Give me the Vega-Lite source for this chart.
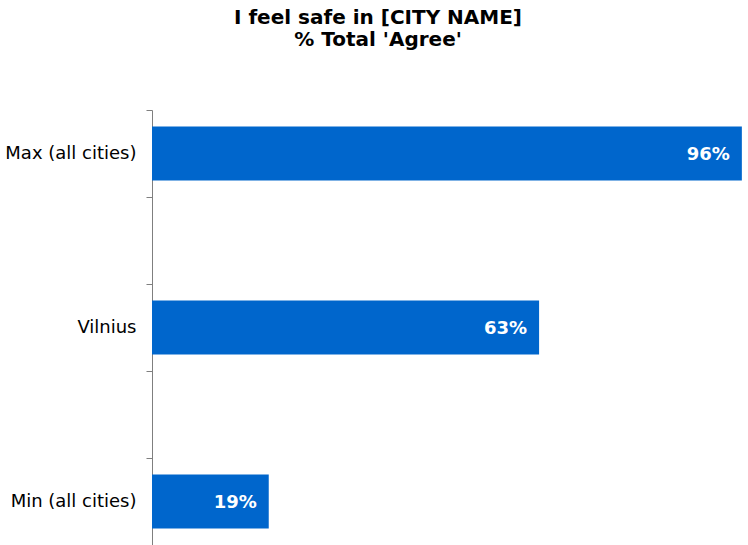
{
  "$schema": "https://vega.github.io/schema/vega-lite/v6.json",
  "width": 596,
  "height": 435,
  "autosize": {"type": "none"},
  "padding": {"left": 152, "top": 110, "right": 0, "bottom": 0},
  "background": "white",
  "config": {"view": {"stroke": null}, "font": "DejaVu Sans"},
  "title": {
    "text": ["I feel safe in [CITY NAME]", "% Total 'Agree'"],
    "font": "DejaVu Sans",
    "fontSize": 20,
    "fontWeight": "bold",
    "color": "#000000",
    "anchor": "middle",
    "dx": -72,
    "offset": 60,
    "lineHeight": 22
  },
  "data": {
    "values": [
      {"city": "Max (all cities)", "value": 96, "label": "96%"},
      {"city": "Vilnius", "value": 63, "label": "63%"},
      {"city": "Min (all cities)", "value": 19, "label": "19%"}
    ]
  },
  "encoding": {
    "y": {
      "field": "city",
      "type": "nominal",
      "scale": {
        "domain": ["Max (all cities)", "_a", "Vilnius", "_b", "Min (all cities)"],
        "paddingInner": 0,
        "paddingOuter": 0
      },
      "axis": {
        "title": null,
        "labelExpr": "indexof(datum.label, '_') == 0 ? '' : datum.label",
        "labelFont": "DejaVu Sans",
        "labelFontSize": 18,
        "labelColor": "#000000",
        "labelPadding": 10,
        "tickSize": 6,
        "tickColor": "#7f7f7f",
        "domainColor": "#7f7f7f",
        "bandPosition": 0,
        "labelBound": false
      }
    },
    "x": {
      "field": "value",
      "type": "quantitative",
      "scale": {"domain": [0, 97]},
      "axis": null
    }
  },
  "layer": [
    {
      "mark": {"type": "bar", "color": "#0066CC", "height": {"band": 0.62}}
    },
    {
      "mark": {"type": "text", "align": "right", "baseline": "middle", "dx": -12, "dy": 1, "color": "white", "fontWeight": "bold", "fontSize": 18, "font": "DejaVu Sans"},
      "encoding": {"text": {"field": "label"}}
    }
  ]
}
